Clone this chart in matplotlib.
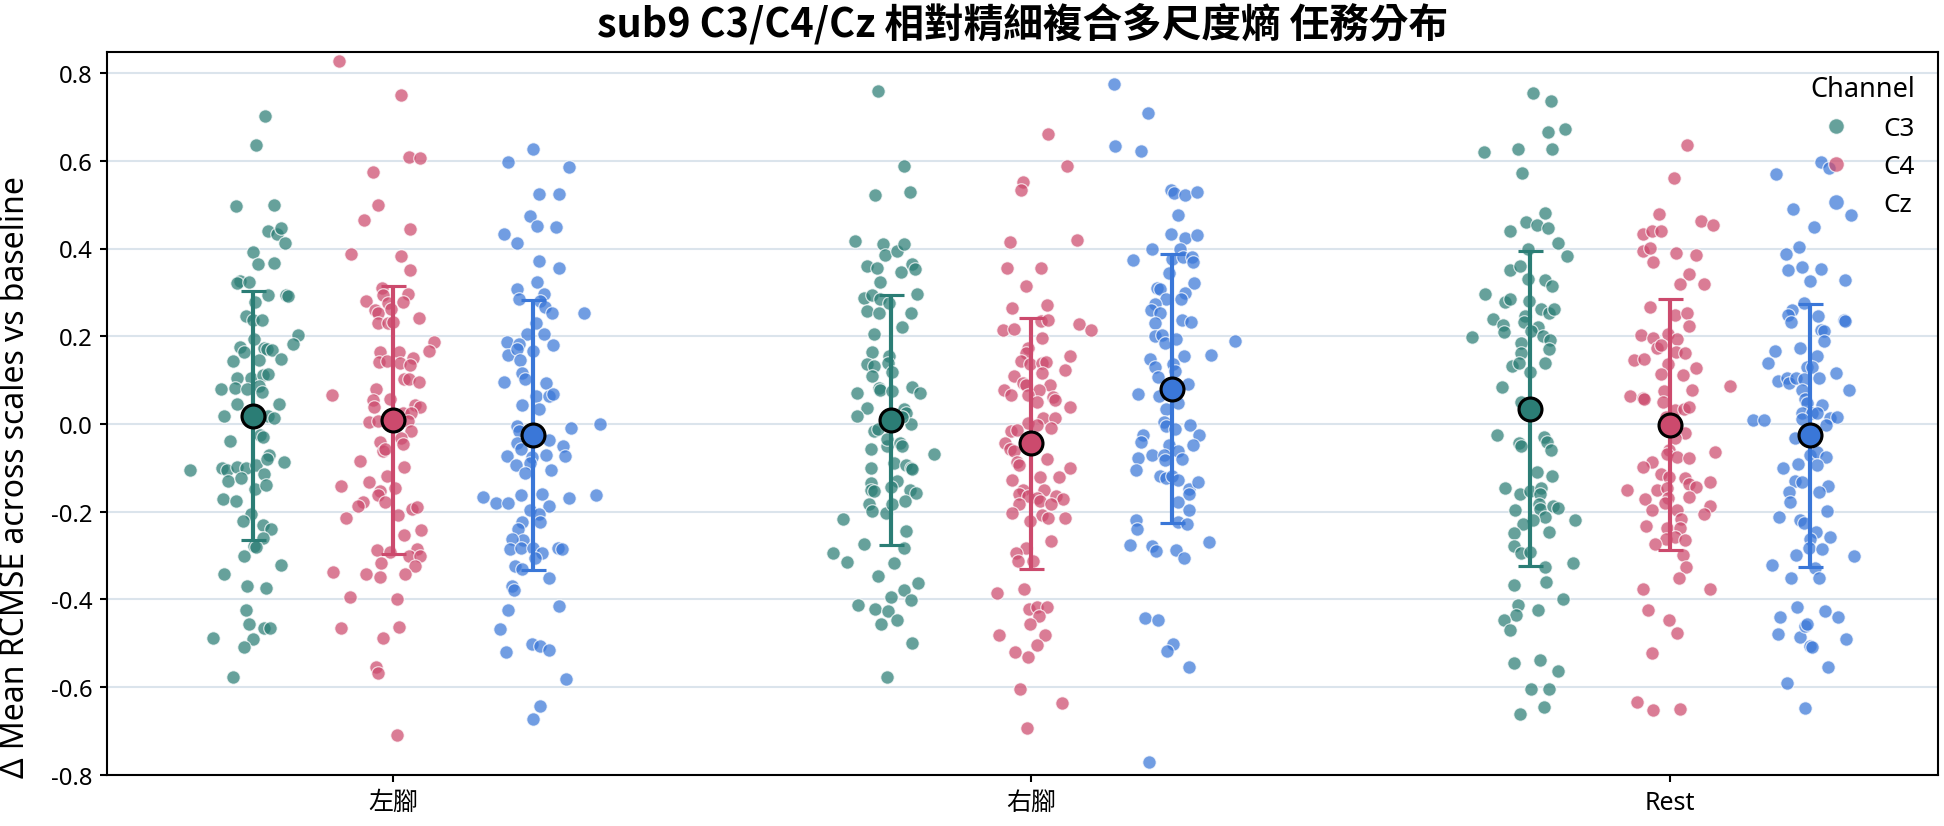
import numpy as np
import matplotlib
matplotlib.use("Agg")
import matplotlib.pyplot as plt
from matplotlib.lines import Line2D

plt.rcParams['font.family'] = ['Noto Sans', 'Noto Sans CJK TC', 'DejaVu Sans']

# ---------------- data ----------------
tasks = ["左腳", "右腳", "Rest"]
channels = ["C3", "C4", "Cz"]
title = "sub9 C3/C4/Cz 相對精細複合多尺度熵 任務分布"
ylabel = "Δ Mean RCMSE across scales vs baseline"
yticks = [-0.8, -0.6, -0.4, -0.2, 0.0, 0.2, 0.4, 0.6, 0.8]

# 左腳
left_c3 = [0.701, 0.637, 0.498, 0.500, 0.441, 0.433, 0.447, 0.412, 0.391, 0.365,
           0.368, 0.327, 0.322, 0.324, 0.293, 0.293, 0.292, 0.279, 0.246, 0.236,
           0.236, 0.202, 0.183, 0.176, 0.163, 0.174, 0.172, 0.168, 0.193, 0.146,
           0.149, 0.143, 0.104, 0.104, 0.112, 0.114, 0.079, 0.083, 0.079, 0.086,
           0.072, 0.045, 0.045, 0.018, 0.011, 0.018, 0.014, -0.039, -0.025, -0.030,
           -0.105, -0.101, -0.104, -0.099, -0.101, -0.094, -0.070, -0.079, -0.087, -0.130,
           -0.124, -0.114, -0.148, -0.140, -0.171, -0.176, -0.205, -0.220, -0.231, -0.239,
           -0.260, -0.277, -0.281, -0.302, -0.322, -0.341, -0.369, -0.373, -0.423, -0.455,
           -0.464, -0.466, -0.488, -0.490, -0.509, -0.577]
left_c3_jit = [0.020, 0.005, -0.026, 0.033, 0.025, 0.038, 0.045, 0.051, 0.000, 0.009,
               0.033, -0.020, -0.025, -0.005, 0.024, 0.053, 0.055, 0.004, -0.010, 0.001,
               0.015, 0.071, 0.063, -0.020, -0.014, 0.018, 0.023, 0.030, 0.002, 0.010,
               0.045, -0.030, -0.024, -0.002, 0.017, 0.025, -0.049, -0.028, -0.008, 0.010,
               0.015, -0.025, 0.041, -0.045, -0.003, 0.025, 0.034, -0.036, 0.011, 0.016,
               -0.098, -0.048, -0.040, -0.025, -0.010, 0.005, 0.026, 0.023, 0.050, -0.038,
               -0.018, 0.018, 0.004, 0.021, -0.046, -0.026, -0.002, -0.015, 0.016, 0.029,
               0.016, 0.003, 0.006, -0.014, 0.044, -0.045, -0.009, 0.021, -0.010, -0.005,
               0.018, 0.027, -0.062, 0.000, -0.014, -0.030]

left_c4 = [0.828, 0.749, 0.609, 0.607, 0.575, 0.500, 0.465, 0.445, 0.388, 0.383,
           0.352, 0.310, 0.294, 0.296, 0.281, 0.276, 0.279, 0.260, 0.252, 0.262,
           0.231, 0.231, 0.233, 0.242, 0.186, 0.167, 0.165, 0.163, 0.151, 0.142,
           0.144, 0.140, 0.134, 0.102, 0.102, 0.095, 0.065, 0.079, 0.057, 0.054,
           0.038, 0.043, 0.038, 0.026, 0.024, 0.005, 0.006, 0.006, -0.017, -0.032,
           -0.041, -0.046, -0.062, -0.057, -0.084, -0.099, -0.142, -0.132, -0.118, -0.145,
           -0.153, -0.161, -0.177, -0.177, -0.186, -0.214, -0.207, -0.194, -0.189, -0.241,
           -0.253, -0.287, -0.291, -0.285, -0.300, -0.301, -0.317, -0.323, -0.338, -0.341,
           -0.349, -0.341, -0.395, -0.400, -0.466, -0.463, -0.487, -0.553, -0.568, -0.708]
left_c4_jit = [-0.085, 0.013, 0.025, 0.042, -0.031, -0.023, -0.046, 0.026, -0.065, 0.013,
               0.027, -0.017, -0.016, 0.024, -0.043, -0.008, 0.015, -0.028, -0.024, -0.003,
               -0.023, -0.008, 0.000, 0.041, 0.064, 0.056, -0.021, 0.009, 0.031, -0.022,
               -0.010, 0.011, 0.027, 0.018, 0.025, 0.041, -0.095, -0.026, -0.004, -0.031,
               -0.030, 0.034, 0.043, 0.016, 0.029, -0.037, -0.024, 0.024, 0.029, 0.013,
               -0.020, 0.016, -0.016, -0.012, -0.051, 0.017, -0.081, -0.038, -0.010, 0.003,
               -0.021, -0.023, -0.013, -0.047, -0.055, -0.073, 0.008, 0.030, 0.038, 0.044,
               0.018, -0.025, -0.005, 0.037, 0.025, 0.042, -0.019, 0.034, -0.094, -0.043,
               -0.021, 0.019, -0.067, 0.007, -0.081, 0.010, -0.015, -0.027, -0.023, 0.007]

left_cz = [0.626, 0.597, 0.586, 0.524, 0.524, 0.475, 0.451, 0.449, 0.434, 0.413,
           0.372, 0.356, 0.324, 0.307, 0.286, 0.297, 0.281, 0.267, 0.254, 0.254,
           0.231, 0.205, 0.206, 0.187, 0.182, 0.181, 0.158, 0.172, 0.166, 0.146,
           0.117, 0.102, 0.095, 0.094, 0.063, 0.064, 0.069, 0.043, 0.035, -0.005,
           -0.015, -0.009, -0.001, -0.036, -0.043, -0.058, -0.049, -0.073, -0.075, -0.070,
           -0.073, -0.094, -0.090, -0.112, -0.105, -0.166, -0.180, -0.180, -0.161, -0.159,
           -0.186, -0.169, -0.162, -0.196, -0.206, -0.223, -0.223, -0.240, -0.264, -0.263,
           -0.286, -0.283, -0.282, -0.293, -0.282, -0.285, -0.305, -0.324, -0.330, -0.352,
           -0.370, -0.379, -0.425, -0.414, -0.468, -0.502, -0.506, -0.515, -0.520, -0.582,
           -0.643, -0.673]
left_cz_jit = [-0.001, -0.040, 0.055, 0.009, 0.040, -0.005, 0.005, 0.035, -0.046, -0.026,
               0.009, 0.040, 0.005, -0.025, -0.023, 0.016, 0.011, 0.018, 0.029, 0.079,
               0.004, -0.010, 0.017, -0.042, -0.022, 0.030, -0.040, -0.026, -0.001, -0.021,
               -0.018, -0.014, -0.046, 0.019, 0.004, 0.024, 0.031, -0.018, 0.009, -0.026,
               -0.023, 0.059, 0.104, 0.024, -0.026, -0.020, 0.047, -0.042, -0.003, 0.019,
               0.049, -0.028, -0.005, -0.014, 0.027, -0.079, -0.059, -0.040, -0.020, 0.014,
               0.024, 0.055, 0.098, -0.005, 0.009, 0.011, -0.018, -0.024, -0.017, -0.033,
               -0.037, -0.020, -0.001, 0.014, 0.039, 0.044, 0.002, -0.029, -0.018, 0.025,
               -0.034, -0.030, -0.040, 0.040, -0.053, -0.003, 0.010, 0.025, -0.043, 0.051,
               0.011, -0.001]

# 右腳
right_c3 = [0.758, 0.589, 0.522, 0.528, 0.418, 0.410, 0.385, 0.394, 0.410, 0.361,
            0.356, 0.347, 0.365, 0.354, 0.324, 0.297, 0.288, 0.294, 0.286, 0.276,
            0.257, 0.254, 0.252, 0.220, 0.206, 0.163, 0.137, 0.132, 0.154, 0.139,
            0.118, 0.109, 0.082, 0.077, 0.075, 0.084, 0.070, 0.071, 0.036, 0.018,
            0.034, 0.026, 0.000, 0.017, -0.017, -0.012, -0.057, -0.051, -0.035, -0.043,
            -0.051, -0.069, -0.089, -0.101, -0.094, -0.100, -0.102, -0.135, -0.150, -0.153,
            -0.130, -0.143, -0.150, -0.157, -0.183, -0.198, -0.203, -0.183, -0.175, -0.216,
            -0.245, -0.273, -0.282, -0.295, -0.314, -0.316, -0.346, -0.362, -0.379, -0.402,
            -0.395, -0.413, -0.421, -0.427, -0.446, -0.456, -0.500, -0.576]
right_c3_jit = [-0.020, 0.021, -0.025, 0.029, -0.057, -0.013, -0.009, 0.009, 0.020, -0.038,
                -0.022, 0.016, 0.033, 0.038, -0.018, 0.040, -0.043, -0.030, -0.017, -0.003,
                -0.038, -0.019, 0.032, 0.017, -0.026, -0.029, -0.038, -0.027, -0.003, -0.005,
                0.001, -0.029, -0.019, -0.018, 0.002, 0.033, 0.046, -0.053, -0.037, -0.053,
                0.020, 0.023, 0.032, 0.017, -0.026, -0.021, -0.032, -0.007, -0.006, 0.014,
                0.017, 0.068, 0.004, -0.031, 0.024, 0.031, 0.033, -0.031, -0.032, -0.027,
                0.009, 0.000, 0.029, 0.039, -0.034, -0.029, -0.008, 0.002, 0.022, -0.075,
                0.024, -0.042, 0.020, -0.091, -0.069, 0.005, -0.020, 0.042, 0.021, 0.031,
                0.000, -0.051, -0.025, -0.005, 0.009, -0.015, 0.033, -0.007]

right_c4 = [0.660, 0.588, 0.552, 0.533, 0.414, 0.419, 0.356, 0.356, 0.315, 0.265,
            0.272, 0.235, 0.237, 0.214, 0.217, 0.229, 0.214, 0.195, 0.174, 0.161,
            0.154, 0.144, 0.136, 0.139, 0.142, 0.117, 0.124, 0.109, 0.093, 0.088,
            0.088, 0.077, 0.066, 0.077, 0.061, 0.054, 0.066, 0.050, 0.038, 0.002,
            0.013, 0.013, -0.009, -0.015, -0.013, -0.003, -0.044, -0.057, -0.062, -0.086,
            -0.094, -0.080, -0.100, -0.128, -0.121, -0.121, -0.150, -0.159, -0.163, -0.151,
            -0.169, -0.163, -0.172, -0.183, -0.175, -0.182, -0.202, -0.207, -0.214, -0.214,
            -0.220, -0.266, -0.282, -0.295, -0.313, -0.313, -0.385, -0.376, -0.421, -0.418,
            -0.416, -0.438, -0.455, -0.481, -0.480, -0.504, -0.520, -0.530, -0.605, -0.636,
            -0.693]
right_c4_jit = [0.026, 0.055, -0.014, -0.017, -0.034, 0.071, -0.039, 0.015, -0.009, -0.030,
                0.025, 0.015, 0.026, -0.045, -0.027, 0.074, 0.093, 0.016, -0.005, -0.009,
                0.060, -0.017, -0.003, 0.016, 0.023, 0.017, 0.052, -0.028, -0.013, -0.009,
                0.029, -0.043, -0.032, 0.011, 0.033, 0.037, -0.005, 0.009, 0.061, -0.005,
                0.018, 0.037, 0.030, -0.032, -0.023, 0.009, -0.042, -0.034, -0.028, -0.022,
                -0.020, 0.024, 0.060, -0.031, 0.014, 0.043, -0.013, -0.020, -0.005, 0.019,
                0.009, 0.039, 0.050, -0.020, 0.014, 0.030, -0.031, 0.016, 0.026, 0.052,
                -0.003, 0.031, -0.009, -0.025, -0.021, 0.003, -0.054, -0.011, -0.004, 0.009,
                0.024, 0.012, -0.003, -0.051, 0.021, 0.009, -0.026, -0.005, -0.018, 0.048,
                -0.007]

right_cz = [0.774, 0.708, 0.633, 0.622, 0.534, 0.526, 0.522, 0.528, 0.476, 0.432,
            0.424, 0.431, 0.374, 0.398, 0.377, 0.398, 0.381, 0.380, 0.370, 0.345,
            0.322, 0.310, 0.308, 0.299, 0.284, 0.286, 0.273, 0.260, 0.252, 0.238,
            0.233, 0.231, 0.201, 0.204, 0.184, 0.193, 0.158, 0.190, 0.149, 0.154,
            0.129, 0.136, 0.120, 0.108, 0.092, 0.068, 0.064, 0.047, 0.034, 0.005,
            -0.003, -0.005, -0.011, -0.026, -0.025, -0.041, -0.048, -0.048, -0.070, -0.070,
            -0.062, -0.079, -0.078, -0.081, -0.105, -0.118, -0.124, -0.118, -0.127, -0.148,
            -0.132, -0.159, -0.178, -0.196, -0.219, -0.239, -0.223, -0.227, -0.276, -0.279,
            -0.290, -0.287, -0.305, -0.268, -0.443, -0.447, -0.502, -0.518, -0.553, -0.770]
right_cz_jit = [-0.090, -0.037, -0.089, -0.048, -0.001, 0.003, 0.021, 0.039, 0.009, -0.001,
                0.021, 0.039, -0.061, -0.032, 0.000, 0.013, 0.017, 0.031, 0.033, -0.004,
                0.035, -0.023, -0.019, 0.021, 0.014, -0.009, -0.026, -0.033, -0.018, 0.015,
                0.030, -0.026, -0.027, -0.016, -0.011, 0.006, 0.061, 0.098, -0.034, 0.019,
                -0.027, 0.002, 0.004, -0.022, 0.025, -0.053, -0.020, 0.010, -0.010, -0.013,
                0.029, -0.009, 0.004, 0.043, -0.046, -0.048, -0.005, 0.033, -0.032, -0.013,
                0.009, 0.016, -0.053, -0.011, -0.056, -0.018, -0.009, 0.000, 0.010, 0.026,
                0.041, 0.027, 0.010, 0.027, -0.057, -0.054, 0.009, 0.023, -0.065, -0.031,
                -0.025, 0.006, 0.019, 0.058, -0.042, -0.022, 0.001, -0.007, 0.027, -0.036]

# Rest
rest_c3 = [0.755, 0.736, 0.665, 0.672, 0.621, 0.626, 0.626, 0.573, 0.481, 0.461,
           0.453, 0.446, 0.440, 0.412, 0.382, 0.399, 0.351, 0.360, 0.330, 0.329,
           0.315, 0.297, 0.278, 0.284, 0.281, 0.262, 0.252, 0.262, 0.240, 0.247,
           0.233, 0.222, 0.225, 0.209, 0.213, 0.198, 0.201, 0.191, 0.184, 0.161,
           0.171, 0.133, 0.139, 0.119, 0.140, 0.084, 0.051, -0.024, -0.044, -0.049,
           -0.030, -0.041, -0.060, -0.110, -0.119, -0.146, -0.159, -0.153, -0.146, -0.159,
           -0.196, -0.182, -0.193, -0.186, -0.191, -0.212, -0.218, -0.218, -0.229, -0.247,
           -0.248, -0.279, -0.295, -0.292, -0.327, -0.317, -0.360, -0.366, -0.400, -0.413,
           -0.425, -0.435, -0.446, -0.469, -0.544, -0.539, -0.562, -0.604, -0.604, -0.661,
           -0.645]
rest_c3_jit = [0.005, 0.033, 0.029, 0.056, -0.072, -0.018, 0.035, -0.012, 0.025, -0.005,
               0.011, 0.029, -0.031, 0.044, 0.059, -0.003, -0.031, -0.015, -0.003, 0.025,
               0.035, -0.069, -0.038, -0.031, -0.001, 0.018, 0.031, 0.038, -0.057, -0.007,
               -0.009, 0.014, -0.041, -0.040, 0.003, -0.090, 0.021, 0.032, -0.013, -0.014,
               0.030, -0.028, -0.016, 0.001, 0.024, -0.043, -0.014, -0.051, -0.017, -0.013,
               0.023, 0.027, 0.034, 0.011, 0.035, -0.039, -0.015, 0.000, 0.018, 0.017,
               -0.022, 0.015, 0.017, 0.037, 0.044, 0.024, 0.005, 0.071, -0.010, 0.031,
               -0.025, -0.025, -0.013, 0.000, 0.025, 0.068, 0.026, -0.025, 0.052, -0.018,
               0.013, -0.021, -0.040, -0.030, -0.025, 0.017, 0.044, 0.002, 0.031, -0.015,
               0.022]

rest_c4 = [0.636, 0.561, 0.478, 0.434, 0.441, 0.441, 0.463, 0.454, 0.394, 0.401,
           0.370, 0.390, 0.386, 0.341, 0.318, 0.318, 0.266, 0.249, 0.253, 0.223,
           0.202, 0.195, 0.206, 0.193, 0.174, 0.180, 0.163, 0.161, 0.145, 0.148,
           0.136, 0.127, 0.114, 0.112, 0.086, 0.064, 0.060, 0.058, 0.075, 0.077,
           0.051, 0.032, 0.034, 0.038, 0.016, -0.021, -0.032, -0.060, -0.069, -0.075,
           -0.078, -0.064, -0.087, -0.097, -0.114, -0.121, -0.123, -0.137, -0.143, -0.132,
           -0.151, -0.150, -0.145, -0.172, -0.169, -0.167, -0.188, -0.204, -0.196, -0.180,
           -0.196, -0.216, -0.232, -0.238, -0.238, -0.261, -0.257, -0.264, -0.273, -0.298,
           -0.326, -0.352, -0.375, -0.377, -0.425, -0.446, -0.476, -0.523, -0.633, -0.653,
           -0.650]
rest_c4_jit = [0.027, 0.006, -0.018, -0.042, -0.028, -0.014, 0.049, 0.068, -0.042, -0.031,
               -0.026, 0.009, 0.041, 0.030, 0.016, 0.054, -0.031, 0.008, 0.027, 0.029,
               -0.045, -0.026, -0.003, 0.011, -0.021, -0.014, 0.010, 0.024, -0.057, -0.040,
               -0.003, 0.040, -0.014, 0.021, 0.094, -0.062, -0.043, -0.041, -0.010, 0.034,
               -0.011, 0.008, 0.022, 0.029, -0.006, 0.023, 0.008, -0.002, -0.005, 0.011,
               0.030, 0.071, -0.028, -0.042, -0.014, -0.002, 0.024, 0.030, 0.040, 0.063,
               -0.067, -0.021, -0.005, -0.039, -0.003, 0.029, 0.063, 0.054, -0.028, -0.008,
               0.011, 0.017, -0.037, -0.005, 0.016, -0.007, 0.008, 0.024, -0.023, 0.021,
               0.025, 0.014, -0.042, 0.063, -0.035, -0.001, 0.011, -0.028, -0.051, -0.026,
               0.016]

rest_cz = [0.569, 0.597, 0.584, 0.490, 0.476, 0.449, 0.403, 0.387, 0.352, 0.358,
           0.354, 0.326, 0.328, 0.276, 0.260, 0.249, 0.233, 0.246, 0.238, 0.235,
           0.214, 0.211, 0.190, 0.166, 0.174, 0.154, 0.139, 0.129, 0.129, 0.117,
           0.097, 0.104, 0.093, 0.106, 0.102, 0.104, 0.077, 0.077, 0.056, 0.047,
           0.043, 0.024, 0.024, 0.024, 0.013, 0.016, 0.009, 0.009, 0.011, -0.003,
           -0.033, -0.071, -0.064, -0.075, -0.100, -0.092, -0.094, -0.130, -0.132, -0.142,
           -0.155, -0.154, -0.178, -0.198, -0.212, -0.218, -0.225, -0.247, -0.261, -0.258,
           -0.283, -0.284, -0.298, -0.300, -0.322, -0.328, -0.352, -0.352, -0.416, -0.427,
           -0.441, -0.441, -0.478, -0.485, -0.460, -0.457, -0.506, -0.508, -0.491, -0.554,
           -0.591, -0.648]
rest_cz_jit = [-0.054, 0.017, 0.029, -0.028, 0.063, 0.005, -0.018, -0.039, -0.035, -0.014,
               0.016, -0.001, 0.054, -0.010, -0.029, -0.035, -0.031, 0.012, 0.053, 0.054,
               0.017, 0.021, 0.021, -0.056, -0.017, 0.010, -0.066, -0.005, 0.003, 0.040,
               -0.051, -0.036, -0.034, -0.022, -0.010, 0.014, 0.061, -0.014, -0.009, -0.005,
               0.018, -0.013, 0.002, 0.010, 0.031, 0.042, -0.090, -0.073, -0.013, 0.024,
               -0.025, -0.001, 0.010, 0.024, -0.043, -0.019, 0.010, -0.024, -0.013, 0.027,
               0.013, -0.033, -0.032, 0.026, -0.050, -0.017, -0.010, 0.008, 0.000, 0.030,
               -0.003, 0.018, -0.023, 0.068, -0.060, 0.007, -0.031, 0.013, -0.021, 0.022,
               0.043, -0.047, -0.051, -0.017, -0.009, -0.005, 0.000, 0.003, 0.055, 0.028,
               -0.037, -0.009]

values = {
    ("左腳", "C3"): (left_c3, left_c3_jit),
    ("左腳", "C4"): (left_c4, left_c4_jit),
    ("左腳", "Cz"): (left_cz, left_cz_jit),
    ("右腳", "C3"): (right_c3, right_c3_jit),
    ("右腳", "C4"): (right_c4, right_c4_jit),
    ("右腳", "Cz"): (right_cz, right_cz_jit),
    ("Rest", "C3"): (rest_c3, rest_c3_jit),
    ("Rest", "C4"): (rest_c4, rest_c4_jit),
    ("Rest", "Cz"): (rest_cz, rest_cz_jit),
}

# ---------------- style ----------------
colors = {"C3": "#2b7d75", "C4": "#cc4a6d", "Cz": "#3a77d8"}
dodge = {"C3": -0.22, "C4": 0.0, "Cz": 0.22}

fig = plt.figure(figsize=(12.96, 5.513), dpi=150)
ax = fig.add_axes([0.055, 0.0617, 0.942, 0.8743])

for gi, task in enumerate(tasks):
    for ch in channels:
        vals, jit = values[(task, ch)]
        vals = np.asarray(vals)
        xs = gi + dodge[ch] + np.asarray(jit)
        ax.scatter(xs, vals, s=42, color=colors[ch], alpha=0.72,
                   edgecolors="white", linewidths=0.6, zorder=3)

for gi, task in enumerate(tasks):
    for ch in channels:
        vals = np.asarray(values[(task, ch)][0])
        m = vals.mean()
        sd = vals.std(ddof=1)
        ax.errorbar(gi + dodge[ch], m, yerr=sd, fmt="o", color=colors[ch],
                    ecolor=colors[ch], elinewidth=2.0, capsize=6, capthick=2.0,
                    markersize=11, markeredgecolor="black", markeredgewidth=1.5,
                    zorder=6)

ax.set_xlim(-0.448, 2.42)
ax.set_ylim(-0.80, 0.848)
ax.set_xticks(range(len(tasks)))
ax.set_xticklabels(tasks, fontsize=12)
ax.set_yticks(yticks)
ax.set_yticklabels([f"{t:.1f}" for t in yticks], fontsize=11.5)
ax.yaxis.grid(True, color="#dbe4ec", linewidth=1.0, zorder=0)
ax.set_axisbelow(True)
for sp in ax.spines.values():
    sp.set_color("black")
    sp.set_linewidth(1.0)
ax.tick_params(axis="both", length=3.5, width=1.0)

ax.set_title(title, fontsize=19, fontweight="bold", pad=8,
             family=["Noto Sans CJK TC", "DejaVu Sans"])
ax.set_ylabel(ylabel, fontsize=15.3)
ax.yaxis.set_label_coords(-0.041, 0.414)

handles = [Line2D([0], [0], marker="o", linestyle="", markersize=7.5,
                  markerfacecolor=colors[c], markeredgecolor="white",
                  markeredgewidth=0.6, alpha=0.72) for c in channels]
leg = ax.legend(handles, channels, title="Channel", loc="upper right",
                frameon=False, fontsize=12.5, title_fontsize=13,
                handletextpad=0.8)

fig.savefig("out.png", dpi=150)
